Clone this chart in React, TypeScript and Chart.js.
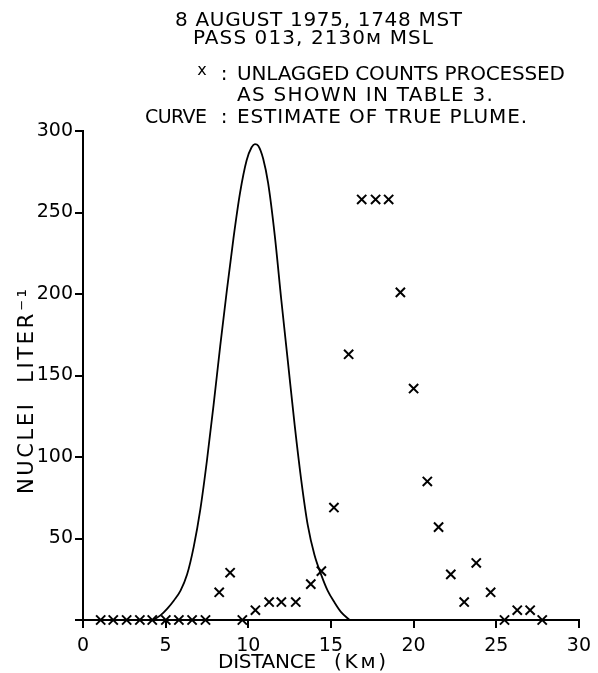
import React, { useEffect, useRef } from 'react';
import { Chart, registerables } from 'chart.js';

Chart.register(...registerables);

// Unlagged counts (x marks)
const countKm = [1.07, 1.83, 2.64, 3.44, 4.19, 5.01, 5.8, 6.6, 7.41, 8.24, 8.9, 9.64, 10.43, 11.26, 12.0, 12.87, 13.78, 14.42, 15.18, 16.07, 16.86, 17.7, 18.49, 19.2, 20.0, 20.83, 21.51, 22.25, 23.06, 23.79, 24.66, 25.5, 26.27, 27.05, 27.78];
const countVal = [0, 0, 0, 0, 0, 0, 0, 0, 0, 17, 29, 0, 6, 11, 11, 11, 22, 30, 69, 163, 258, 258, 258, 201, 142, 85, 57, 28, 11, 35, 17, 0, 6, 6, 0];

// Estimate of true plume (curve)
const curveKm = [4.25, 4.7, 5.1, 5.5, 5.9, 6.3, 6.7, 7.1, 7.5, 7.9, 8.3, 8.7, 9.1, 9.5, 9.9, 10.2, 10.4, 10.6, 10.9, 11.2, 11.6, 12.0, 12.4, 12.8, 13.2, 13.6, 14.0, 14.4, 14.8, 15.2, 15.6, 16.13];
const curveVal = [0, 3, 7, 12, 18, 28, 45, 68, 98, 132, 168, 202, 234, 262, 282, 290, 292, 291, 283, 268, 236, 196, 158, 120, 86, 58, 40, 28, 18, 11, 5, 0];

const xTicks = [0, 5, 10, 15, 20, 25, 30];
const yTicks = [0, 50, 100, 150, 200, 250, 300];

const headingLines = ['8 AUGUST 1975, 1748 MST', 'PASS 013, 2130\u1D0D MSL'];
const legendMark = 'x';
const legendCurve = 'CURVE';
const legendLines = ['UNLAGGED COUNTS PROCESSED', 'AS SHOWN IN TABLE 3.', 'ESTIMATE OF TRUE PLUME.'];
const xTitleWord = 'DISTANCE';
const xTitleUnit = '(K\u1D0D)';
const yTitle = 'NUCLEI  LITER\u207B\u00B9';

const FAMILY = '"DejaVu Sans", "Liberation Sans", sans-serif';

function fitText(ctx: CanvasRenderingContext2D, text: string, x: number, y: number, width: number) {
  (ctx as any).letterSpacing = '0px';
  const w = ctx.measureText(text).width;
  const n = Array.from(text).length;
  const ls = n > 1 ? (width - w) / (n - 1) : 0;
  (ctx as any).letterSpacing = ls.toFixed(2) + 'px';
  ctx.textAlign = 'left';
  ctx.fillText(text, x, y);
  (ctx as any).letterSpacing = '0px';
}

const textPlugin = {
  id: 'annotText',
  afterDraw(chart: any) {
    const ctx: CanvasRenderingContext2D = chart.ctx;
    ctx.save();
    ctx.fillStyle = '#000';
    ctx.textBaseline = 'alphabetic';
    ctx.font = `20px ${FAMILY}`;
    fitText(ctx, headingLines[0], 175, 26, 287);
    fitText(ctx, headingLines[1], 193, 44, 240);
    fitText(ctx, legendLines[0], 237, 80, 328);
    fitText(ctx, legendLines[1], 237, 101, 256);
    fitText(ctx, legendLines[2], 237, 123, 290);
    ctx.font = `19px ${FAMILY}`;
    fitText(ctx, legendCurve, 145, 123, 62);
    ctx.font = `20px ${FAMILY}`;
    ctx.textAlign = 'center';
    ctx.fillText(':', 224, 80);
    ctx.fillText(':', 224, 123);
    ctx.font = `16px ${FAMILY}`;
    ctx.fillText(legendMark, 202, 75);
    // x axis title
    ctx.font = `20px ${FAMILY}`;
    fitText(ctx, xTitleWord, 218, 668, 98);
    fitText(ctx, xTitleUnit, 334, 668, 52);
    // y axis title
    ctx.font = `21px ${FAMILY}`;
    ctx.translate(33, 391);
    ctx.rotate(-Math.PI / 2);
    fitText(ctx, yTitle, -103, 0, 205);
    ctx.restore();
  },
};

export default function App() {
  const ref = useRef<HTMLCanvasElement>(null);
  useEffect(() => {
    document.body.style.margin = '0';
    const canvas = ref.current!;
    const axisCommon = {
      grid: { drawOnChartArea: false, drawTicks: true, tickLength: 8, color: '#000', lineWidth: 2 },
      border: { display: true, color: '#000', width: 2 },
    };
    const chart = new Chart(canvas, {
      type: 'scatter',
      data: {
        datasets: [
          {
            type: 'scatter',
            data: countKm.map((x, i) => ({ x, y: countVal[i] })),
            pointStyle: 'crossRot',
            pointRadius: 6.5,
            borderColor: '#000',
            backgroundColor: '#000',
            borderWidth: 2,
            clip: false,
            order: 0,
          } as any,
          {
            type: 'line',
            data: curveKm.map((x, i) => ({ x, y: curveVal[i] })),
            borderColor: '#000',
            borderWidth: 1.8,
            pointRadius: 0,
            cubicInterpolationMode: 'monotone',
            fill: false,
            clip: false,
            order: 1,
          } as any,
        ],
      },
      options: {
        animation: false,
        responsive: false,
        devicePixelRatio: 1,
        layout: { padding: { top: 131, right: 18, left: 0, bottom: 0 } },
        plugins: { legend: { display: false }, tooltip: { enabled: false }, title: { display: false } },
        scales: {
          x: {
            type: 'linear',
            min: 0,
            max: 30,
            afterBuildTicks: (s: any) => { s.ticks = xTicks.map((v) => ({ value: v })); },
            ticks: { font: { family: FAMILY, size: 19 }, color: '#000', padding: 7, maxRotation: 0, autoSkip: false },
            title: { display: false },
            afterFit: (s: any) => { s.height = 53; },
            ...axisCommon,
          },
          y: {
            type: 'linear',
            min: 0,
            max: 300,
            afterBuildTicks: (s: any) => { s.ticks = yTicks.map((v) => ({ value: v })); },
            ticks: { font: { family: FAMILY, size: 19 }, color: '#000', padding: 2, callback: (v: any) => (v === 0 ? '' : String(v)) },
            afterFit: (s: any) => { s.width = 83; },
            ...axisCommon,
          },
        },
      } as any,
      plugins: [textPlugin],
    });
    return () => chart.destroy();
  }, []);
  return <canvas ref={ref} width={598} height={673} style={{ display: 'block', width: 598, height: 673 }} />;
}
